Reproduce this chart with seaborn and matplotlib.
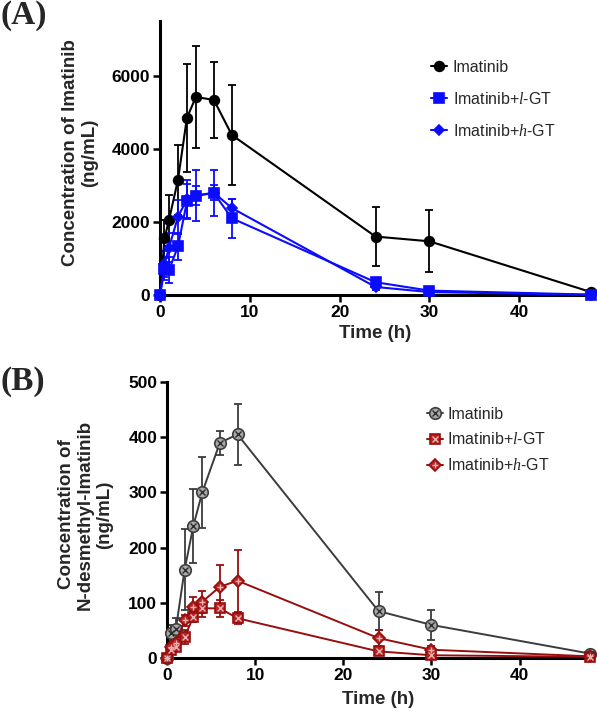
import matplotlib
matplotlib.use("Agg")
import matplotlib.pyplot as plt
import seaborn as sns
import numpy as np
from matplotlib.lines import Line2D
from matplotlib.legend_handler import HandlerTuple

# ---------------- data ----------------
time_h = [0, 0.5, 1, 2, 3, 4, 6, 8, 24, 30, 48]

labels = ["Imatinib", r"Imatinib+$\it{l}$-GT", r"Imatinib+$\it{h}$-GT"]

# Panel A: Imatinib concentration (ng/mL)
imat_A = [0, 1550, 2050, 3150, 4850, 5420, 5340, 4380, 1600, 1470, 80]
imat_A_sd = [0, 500, 700, 950, 1480, 1400, 1050, 1380, 800, 850, 30]
lgt_A = [0, 700, 680, 1330, 2560, 2720, 2790, 2100, 350, 120, 10]
lgt_A_sd = [0, 300, 350, 370, 480, 700, 630, 540, 100, 40, 5]
hgt_A = [0, 850, 1290, 2140, 2620, 2720, 2800, 2380, 220, 80, 5]
hgt_A_sd = [0, 350, 400, 460, 520, 260, 200, 250, 80, 30, 3]

# Panel B: N-desmethyl-Imatinib concentration (ng/mL)
imat_B = [0, 45, 52, 160, 240, 300, 390, 405, 85, 60, 8]
imat_B_sd = [0, 15, 20, 73, 67, 65, 22, 55, 35, 27, 3]
lgt_B = [0, 15, 20, 38, 75, 90, 90, 72, 12, 5, 2]
lgt_B_sd = [0, 8, 8, 12, 10, 15, 15, 10, 5, 3, 1]
hgt_B = [0, 20, 28, 68, 92, 102, 129, 140, 36, 15, 3]
hgt_B_sd = [0, 8, 10, 10, 18, 20, 40, 56, 15, 6, 1]

xticks = [0, 10, 20, 30, 40]
yticks_A = [0, 2000, 4000, 6000]
yticks_B = [0, 100, 200, 300, 400, 500]

# ---------------- style ----------------
sns.set_theme(style="ticks")
plt.rcParams["font.family"] = ["Liberation Sans", "DejaVu Sans"]
plt.rcParams["mathtext.fontset"] = "custom"
plt.rcParams["mathtext.rm"] = "Liberation Sans"
plt.rcParams["mathtext.it"] = "Liberation Serif:italic"

fig = plt.figure(figsize=(5.97, 7.11), dpi=100)
axA = fig.add_axes([160 / 597, (711 - 295) / 711, 431 / 597, 274 / 711])
axB = fig.add_axes([167 / 597, (711 - 658) / 711, 423 / 597, 276 / 711])

BLACK = "#000000"
BLUE = "#0b0bff"
GRAY = "#3c3c3c"
RED = "#980e0e"


def series(ax, y, sd, color, marker, ms, lw, face=None, inner=None, inner_ms=None, inner_color="white"):
    face = color if face is None else face
    ax.errorbar(time_h, y, yerr=sd, fmt="none", ecolor=color, elinewidth=1.3,
                capsize=3.0, capthick=1.3, zorder=2, clip_on=False)
    sns.lineplot(x=time_h, y=y, ax=ax, color=color, linewidth=lw, marker=marker,
                 markersize=ms, markerfacecolor=face, markeredgecolor=color,
                 markeredgewidth=1.2, zorder=3, clip_on=False, legend=False,
                 errorbar=None, sort=False)
    h = Line2D([], [], color=color, lw=lw, marker=marker, markersize=ms,
               markerfacecolor=face, markeredgecolor=color, markeredgewidth=1.2)
    if inner is not None:
        ax.plot(time_h, y, linestyle="none", marker=inner, markersize=inner_ms,
                markeredgecolor=inner_color, markeredgewidth=1.0, zorder=4, clip_on=False)
        h2 = Line2D([], [], linestyle="none", marker=inner, markersize=inner_ms,
                    markeredgecolor=inner_color, markeredgewidth=1.0)
        return (h, h2)
    return h


# Panel A
hA = [
    series(axA, imat_A, imat_A_sd, BLACK, "o", 7, 1.5),
    series(axA, lgt_A, lgt_A_sd, BLUE, "s", 6.5, 1.5),
    series(axA, hgt_A, hgt_A_sd, BLUE, "D", 5.3, 1.5),
]

# Panel B
hB = [
    series(axB, imat_B, imat_B_sd, GRAY, "o", 8.3, 1.4, face="#a8a8a8", inner="x", inner_ms=5, inner_color="#2e2e2e"),
    series(axB, lgt_B, lgt_B_sd, RED, "s", 7.5, 1.4, face="#b52424", inner="x", inner_ms=5, inner_color="#eab2b2"),
    series(axB, hgt_B, hgt_B_sd, RED, "D", 6.3, 1.4, face="#b52424", inner="+", inner_ms=5, inner_color="#eab2b2"),
]

for ax, yt, ylim, ylab, lx, ly in [
    (axA, yticks_A, (0, 7500), "Concentration of Imatinib\n(ng/mL)", -0.144, 0.52),
    (axB, yticks_B, (0, 500), "Concentration of\nN-desmethyl-Imatinib\n(ng/mL)", -0.128, 0.52),
]:
    ax.set_xlim(0, 48)
    ax.set_ylim(*ylim)
    ax.set_xticks(xticks)
    ax.set_yticks(yt)
    ax.set_xticklabels([str(t) for t in xticks], fontweight="bold", fontsize=12.5)
    ax.set_yticklabels([str(t) for t in yt], fontweight="bold", fontsize=12.5)
    ax.tick_params(axis="both", length=5, width=1.8, pad=2, color="black", labelcolor="black")
    for s in ["left", "bottom"]:
        ax.spines[s].set_linewidth(2.2)
        ax.spines[s].set_color("black")
    for s in ["top", "right"]:
        ax.spines[s].set_visible(False)
    ax.set_xlabel("Time (h)", fontweight="bold", fontsize=13.5)
    ax.set_ylabel(ylab, fontweight="bold", fontsize=13.5, linespacing=1.15)
    ax.yaxis.set_label_coords(lx, ly)
    ax.set_facecolor("white")

axA.xaxis.set_label_coords(0.5, -0.11)
axB.xaxis.set_label_coords(0.5, -0.12)

legA = axA.legend(hA, labels, loc="upper left", bbox_to_anchor=(0.596, 0.91),
                  frameon=False, fontsize=11.5, handlelength=1.0, handletextpad=0.35,
                  labelspacing=1.0, handler_map={tuple: HandlerTuple(ndivide=1)})
legB = axB.legend(hB, labels, loc="upper left", bbox_to_anchor=(0.58, 0.963),
                  frameon=False, fontsize=11.5, handlelength=1.0, handletextpad=0.3,
                  labelspacing=0.62, handler_map={tuple: HandlerTuple(ndivide=1)})

fig.text(0.0, 1.0, "(A)", fontsize=24, fontweight="bold", family="Liberation Serif",
         ha="left", va="top")
fig.text(0.0, (711 - 366) / 711, "(B)", fontsize=24, fontweight="bold", family="Liberation Serif",
         ha="left", va="top")

fig.savefig("out.png", dpi=100, facecolor="white")
